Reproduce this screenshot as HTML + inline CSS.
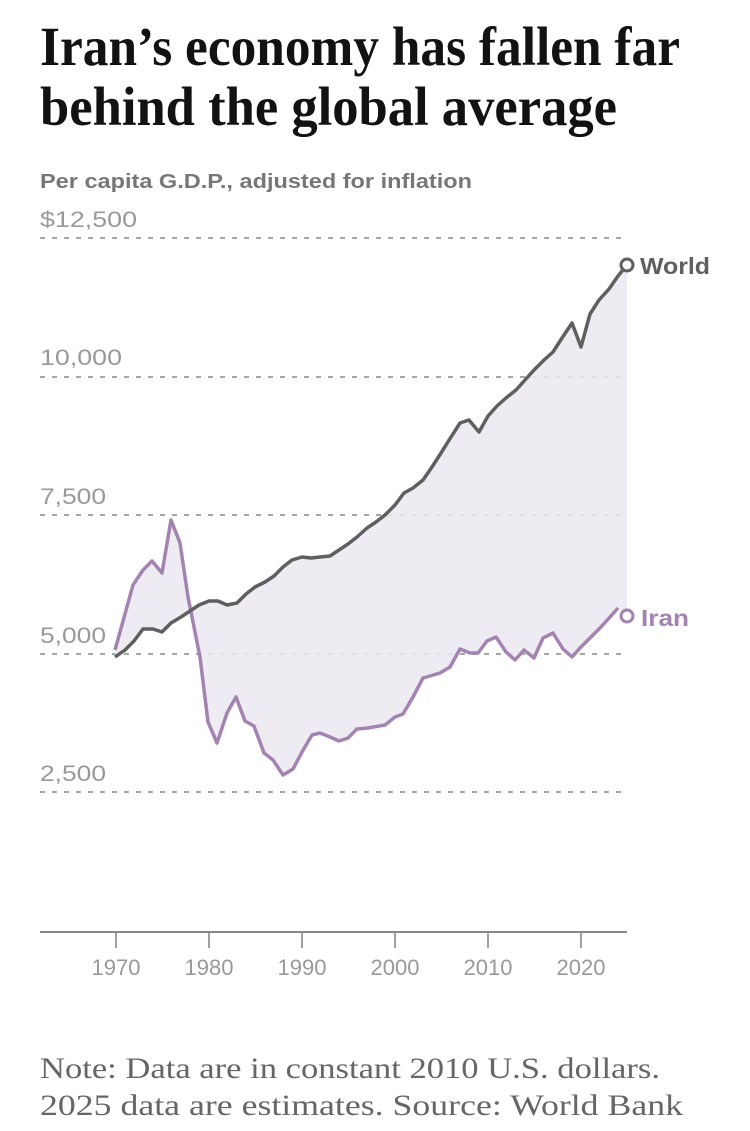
<!DOCTYPE html>
<html><head><meta charset="utf-8"><style>
html,body{margin:0;padding:0;background:#fff;}
svg{display:block;}
</style></head><body>
<svg width="750" height="1131" viewBox="0 0 750 1131" xmlns="http://www.w3.org/2000/svg">
<g font-family="Liberation Serif, serif" font-weight="bold" fill="#121212" font-size="55">
<text x="40" y="65" textLength="640" lengthAdjust="spacingAndGlyphs">Iran’s economy has fallen far</text>
<text x="40" y="125" textLength="577" lengthAdjust="spacingAndGlyphs">behind the global average</text>
</g>
<text x="40" y="188" font-family="Liberation Sans, sans-serif" font-weight="bold" font-size="20" fill="#777" textLength="432" lengthAdjust="spacingAndGlyphs">Per capita G.D.P., adjusted for inflation</text>
<g font-family="Liberation Sans, sans-serif" font-size="22" fill="#999">
<text x="40" y="227" textLength="97" lengthAdjust="spacingAndGlyphs">$12,500</text>
<text x="40" y="365" textLength="82" lengthAdjust="spacingAndGlyphs">10,000</text>
<text x="40" y="504" textLength="66" lengthAdjust="spacingAndGlyphs">7,500</text>
<text x="40" y="643" textLength="66" lengthAdjust="spacingAndGlyphs">5,000</text>
<text x="40" y="781" textLength="66" lengthAdjust="spacingAndGlyphs">2,500</text>
</g>
<g stroke="#888" stroke-width="1.6" stroke-dasharray="5,7">
<line x1="40" y1="238" x2="627" y2="238"/>
<line x1="40" y1="377" x2="627" y2="377"/>
<line x1="40" y1="515" x2="627" y2="515"/>
<line x1="40" y1="654" x2="627" y2="654"/>
<line x1="40" y1="792" x2="627" y2="792"/>
</g>
<polygon fill="#ece7f1" fill-opacity="0.85" points="115,657 125,650 134,641 143,629 153,629 162,632 171,623 181,617 190,611 199,605 209,601 218,601 227,605 237,603 246,594 255,587 265,582 274,576 283,567 292,560 302,557 311,558 320,557 330,556 339,550 348,544 357,537 367,528 376,522 385,515 395,505 404,493 413,488 423,480 432,467 441,453 451,437 460,423 469,420 479,432 488,416 497,406 506,398 516,390 525,380 534,370 544,360 553,352 562,338 572,323 581,347 590,314 599,300 609,289 618,276 627,265 627,617 618,608 610,617 600,628 590,638 580,648 572,657 563,649 553,633 543,638 534,658 524,650 515,660 506,652 496,637 487,641 478,653 470,653 460,649 450,667 440,673 423,678 413,697 403,714 395,717 385,725 368,728 357,729 348,738 339,741 330,737 320,733 312,735 302,752 293,769 283,775 273,760 264,753 254,726 245,721 236,697 227,713 217,743 208,722 200,657 188,597 180,543 171,520 162,573 152,561 143,570 133,585 115,650"/>
<polyline fill="none" stroke="#a383b0" stroke-width="3.5" stroke-linejoin="round" points="115,650 133,585 143,570 152,561 162,573 171,520 180,543 188,597 200,657 208,722 217,743 227,713 236,697 245,721 254,726 264,753 273,760 283,775 293,769 302,752 312,735 320,733 330,737 339,741 348,738 357,729 368,728 385,725 395,717 403,714 413,697 423,678 440,673 450,667 460,649 470,653 478,653 487,641 496,637 506,652 515,660 524,650 534,658 543,638 553,633 563,649 572,657 580,648 590,638 600,628 610,617 618,608"/>
<polyline fill="none" stroke="#5f5f5f" stroke-width="3.5" stroke-linejoin="round" points="115,657 125,650 134,641 143,629 153,629 162,632 171,623 181,617 190,611 199,605 209,601 218,601 227,605 237,603 246,594 255,587 265,582 274,576 283,567 292,560 302,557 311,558 320,557 330,556 339,550 348,544 357,537 367,528 376,522 385,515 395,505 404,493 413,488 423,480 432,467 441,453 451,437 460,423 469,420 479,432 488,416 497,406 506,398 516,390 525,380 534,370 544,360 553,352 562,338 572,323 581,347 590,314 599,300 609,289 618,276 627,265"/>
<circle cx="627" cy="265" r="6" fill="#fff" stroke="#5f5f5f" stroke-width="3"/>
<circle cx="627" cy="616" r="6" fill="#fff" stroke="#a383b0" stroke-width="3"/>
<text x="640" y="274" font-family="Liberation Sans, sans-serif" font-weight="bold" font-size="23" fill="#5f5f5f" textLength="70" lengthAdjust="spacingAndGlyphs">World</text>
<text x="641" y="626" font-family="Liberation Sans, sans-serif" font-weight="bold" font-size="23" fill="#a383b0" textLength="48" lengthAdjust="spacingAndGlyphs">Iran</text>
<line x1="40" y1="932" x2="627" y2="932" stroke="#888" stroke-width="2"/>
<g stroke="#888" stroke-width="1.6">
<line x1="116" y1="932" x2="116" y2="948"/><line x1="209" y1="932" x2="209" y2="948"/><line x1="302" y1="932" x2="302" y2="948"/><line x1="395" y1="932" x2="395" y2="948"/><line x1="488" y1="932" x2="488" y2="948"/><line x1="581" y1="932" x2="581" y2="948"/>
</g>
<g font-family="Liberation Sans, sans-serif" font-size="22" fill="#999" text-anchor="middle">
<text x="116" y="975">1970</text><text x="209" y="975">1980</text><text x="302" y="975">1990</text><text x="395" y="975">2000</text><text x="488" y="975">2010</text><text x="581" y="975">2020</text>
</g>
<g font-family="Liberation Serif, serif" font-size="30" fill="#666">
<text x="40" y="1078" textLength="620" lengthAdjust="spacingAndGlyphs">Note: Data are in constant 2010 U.S. dollars.</text>
<text x="40" y="1115" textLength="643" lengthAdjust="spacingAndGlyphs">2025 data are estimates.  Source: World Bank</text>
</g>
</svg>
</body></html>
